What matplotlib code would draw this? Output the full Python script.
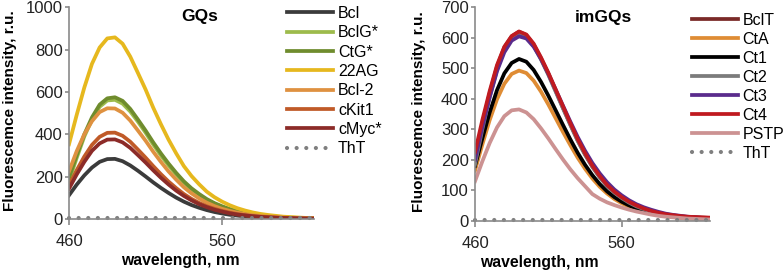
import matplotlib
matplotlib.use('Agg')
import matplotlib.pyplot as plt

plt.rcParams['font.family'] = ['Liberation Sans', 'DejaVu Sans']

wl = [460, 465, 470, 475, 480, 485, 490, 495, 500, 505, 510, 515, 520, 525, 530, 535, 540,
      545, 550, 555, 560, 565, 570, 575, 580, 585, 590, 595, 600, 605, 610, 615, 620]

# GQs (left panel)
bcl = [112, 162, 206, 243, 270, 283, 284, 273, 253, 228, 201, 173, 147, 123, 101, 82, 66,
       53, 42, 33, 26, 20, 16, 12, 10, 8, 6, 5, 4, 3, 2, 2, 1]
bclg = [180, 288, 390, 470, 530, 560, 563, 545, 508, 460, 408, 352, 300, 253, 210, 171, 139,
        113, 90, 72, 57, 45, 35, 28, 22, 17, 13, 10, 8, 6, 5, 4, 3]
ctg = [195, 300, 400, 480, 540, 570, 575, 558, 520, 470, 418, 362, 310, 262, 218, 178, 145,
       118, 94, 75, 60, 47, 37, 29, 23, 18, 14, 11, 8, 6, 5, 4, 3]
ag22 = [353, 491, 621, 733, 810, 853, 858, 828, 767, 690, 612, 526, 448, 375, 310, 250, 203,
        164, 129, 103, 82, 65, 51, 40, 31, 24, 19, 15, 11, 9, 7, 5, 4]
bcl2 = [225, 320, 400, 462, 505, 523, 522, 502, 465, 418, 370, 318, 270, 225, 186, 150, 121,
        97, 77, 61, 48, 38, 30, 23, 18, 14, 11, 9, 7, 5, 4, 3, 3]
ckit1 = [158, 230, 295, 350, 388, 407, 408, 393, 365, 328, 290, 250, 212, 177, 146, 118, 95,
         76, 60, 48, 38, 30, 23, 18, 14, 11, 9, 7, 5, 4, 3, 3, 2]
cmyc = [143, 210, 270, 322, 357, 375, 376, 362, 336, 302, 267, 230, 195, 163, 134, 109, 88,
        70, 56, 44, 35, 27, 21, 17, 13, 10, 8, 6, 5, 4, 3, 2, 2]
tht_l = [3] * 33

# imGQs (right panel)
bclt = [210, 318, 418, 505, 568, 604, 619, 608, 577, 532, 481, 426, 370, 316, 264, 218, 178,
        144, 116, 94, 76, 61, 49, 40, 32, 26, 21, 18, 15, 13, 12, 11, 10]
cta = [165, 250, 330, 398, 449, 481, 492, 484, 459, 423, 381, 336, 291, 248, 207, 171, 139,
       112, 90, 72, 58, 47, 38, 31, 25, 20, 16, 13, 11, 9, 8, 7, 6]
ct1 = [180, 270, 355, 428, 483, 517, 530, 521, 494, 455, 410, 362, 314, 267, 223, 184, 150,
       121, 97, 78, 63, 51, 41, 33, 27, 22, 18, 15, 12, 10, 9, 8, 7]
ct2 = [185, 300, 405, 495, 560, 598, 613, 603, 573, 528, 478, 423, 368, 314, 262, 217, 177,
       143, 115, 93, 75, 60, 48, 39, 31, 25, 20, 17, 14, 12, 11, 10, 9]
ct3 = [200, 308, 405, 490, 552, 590, 604, 597, 570, 530, 482, 430, 377, 325, 275, 230, 190,
       156, 127, 103, 84, 68, 55, 45, 37, 30, 24, 20, 17, 14, 12, 10, 9]
ct4 = [225, 330, 425, 510, 570, 605, 620, 610, 580, 535, 485, 430, 375, 320, 268, 222, 181,
       147, 118, 96, 78, 63, 51, 41, 33, 27, 22, 19, 16, 14, 13, 12, 11]
pstp = [130, 195, 255, 306, 343, 362, 365, 355, 333, 303, 270, 235, 201, 169, 140, 114, 88,
        73, 61, 52, 44, 37, 31, 26, 21, 17, 14, 12, 10, 8, 7, 6, 5]
tht_r = [3] * 33

left_names = ['Bcl', 'BclG*', 'CtG*', '22AG', 'Bcl-2', 'cKit1', 'cMyc*']
left_data = [bcl, bclg, ctg, ag22, bcl2, ckit1, cmyc]
left_colors = ['#3b3b3b', '#9dbb4c', '#6f8c2d', '#e6b81e', '#df9140', '#c05a28', '#8c2b28']

right_names = ['BclT', 'CtA', 'Ct1', 'Ct2', 'Ct3', 'Ct4', 'PSTP']
right_data = [bclt, cta, ct1, ct2, ct3, ct4, pstp]
right_colors = ['#7a2a28', '#df8c34', '#000000', '#7b7b7b', '#5a2b8c', '#c01a20', '#cc9292']

fig = plt.figure(figsize=(7.83, 2.70), dpi=100)
ax1 = fig.add_axes([69 / 783, 51 / 270, 245 / 783, 211.7 / 270])
ax2 = fig.add_axes([475 / 783, 49 / 270, 234.7 / 783, 214 / 270])


def style(ax, ymax, ystep):
    ax.set_xlim(460, 620)
    ax.set_ylim(0, ymax)
    ax.set_xticks([460, 560])
    ax.set_yticks(range(0, ymax + 1, ystep))
    for s in ['top', 'right']:
        ax.spines[s].set_visible(False)
    for s in ['left', 'bottom']:
        ax.spines[s].set_color('#8a8a8a')
        ax.spines[s].set_linewidth(1.2)
    ax.tick_params(axis='y', length=3, width=1.2, color='#8a8a8a', pad=1.5,
                   labelsize=12, labelcolor='#222222')
    ax.tick_params(axis='x', length=4, width=1.2, color='#8a8a8a', pad=7,
                   labelsize=12, labelcolor='#222222')
    ax.set_ylabel('Fluorescemce intensity, r.u.', fontsize=11, fontweight='bold')
    ax.set_xlabel('wavelength, nm', fontsize=11.3, fontweight='bold')


style(ax1, 1000, 200)
style(ax2, 700, 100)

dots = (0, (0.01, 2.3))

for name, d, c in zip(left_names, left_data, left_colors):
    ax1.plot(wl, d, color=c, lw=2.7, label=name)
ax1.plot(wl, tht_l, color='#7f7f7f', lw=3.0, linestyle=dots,
         dash_capstyle='round', label='ThT', clip_on=False)

for name, d, c in zip(right_names, right_data, right_colors):
    ax2.plot(wl, d, color=c, lw=2.7, label=name)
ax2.plot(wl, tht_r, color='#7f7f7f', lw=3.0, linestyle=dots,
         dash_capstyle='round', label='ThT', clip_on=False)

ax1.text(0.535, 0.955, 'GQs', transform=ax1.transAxes, ha='center', va='center',
         fontsize=12.5, fontweight='bold')
ax2.text(0.545, 0.953, 'imGQs', transform=ax2.transAxes, ha='center', va='center',
         fontsize=12.5, fontweight='bold')

ax1.yaxis.set_label_coords(-0.212, 0.51)
ax1.xaxis.set_label_coords(0.453, -0.16)
ax2.yaxis.set_label_coords(-0.208, 0.509)
ax2.xaxis.set_label_coords(0.275, -0.16)

ax1.legend(loc='upper left', bbox_to_anchor=(287 / 783, 264 / 270),
           bbox_transform=fig.transFigure, frameon=False, fontsize=11.5,
           handlelength=2.9, handletextpad=0.3, labelspacing=0.27,
           borderpad=0, borderaxespad=0)
ax2.legend(loc='upper left', bbox_to_anchor=(691.5 / 783, 257.3 / 270),
           bbox_transform=fig.transFigure, frameon=False, fontsize=11.5,
           handlelength=2.9, handletextpad=0.3, labelspacing=0.25,
           borderpad=0, borderaxespad=0)

fig.savefig('out.png', dpi=100)
